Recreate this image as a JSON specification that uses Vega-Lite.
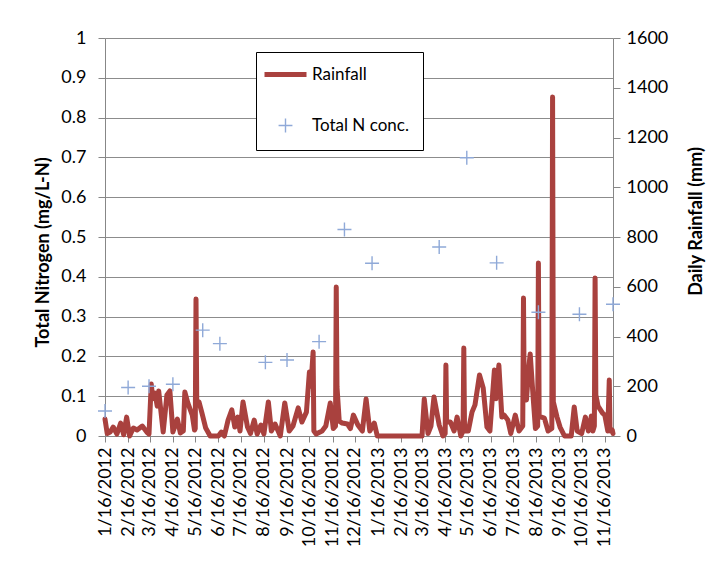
{
  "$schema": "https://vega.github.io/schema/vega-lite/v6.json",
  "width": 508,
  "height": 398,
  "autosize": {"type": "none"},
  "padding": {"left": 105, "top": 38, "right": 107, "bottom": 133},
  "background": "white",
  "config": {
    "view": {"stroke": null},
    "font": "Lato",
    "axis": {
      "labelFont": "Lato",
      "titleFont": "Lato",
      "labelColor": "black",
      "titleColor": "black",
      "labelFontSize": 18,
      "titleFontSize": 18,
      "titleFontWeight": "bold",
      "domainColor": "#878787",
      "tickColor": "#878787",
      "gridColor": "#8c8c8c",
      "gridOpacity": 1,
      "tickSize": 7
    },
    "axisX": {"labelOverlap": false}
  },
  "datasets": {
    "rain": [
      {"date": "2012-01-16", "rain": 68}, {"date": "2012-01-19", "rain": 10}, {"date": "2012-01-23", "rain": 16},
      {"date": "2012-01-27", "rain": 36}, {"date": "2012-02-01", "rain": 8}, {"date": "2012-02-06", "rain": 52},
      {"date": "2012-02-10", "rain": 5}, {"date": "2012-02-14", "rain": 76}, {"date": "2012-02-18", "rain": 0},
      {"date": "2012-02-23", "rain": 32}, {"date": "2012-02-28", "rain": 24}, {"date": "2012-03-06", "rain": 40},
      {"date": "2012-03-12", "rain": 16}, {"date": "2012-03-15", "rain": 8}, {"date": "2012-03-18", "rain": 209},
      {"date": "2012-03-20", "rain": 150}, {"date": "2012-03-23", "rain": 173}, {"date": "2012-03-26", "rain": 120},
      {"date": "2012-03-28", "rain": 181}, {"date": "2012-04-03", "rain": 16}, {"date": "2012-04-08", "rain": 165},
      {"date": "2012-04-12", "rain": 181}, {"date": "2012-04-16", "rain": 16}, {"date": "2012-04-22", "rain": 68},
      {"date": "2012-04-26", "rain": 12}, {"date": "2012-04-30", "rain": 20}, {"date": "2012-05-02", "rain": 177},
      {"date": "2012-05-06", "rain": 133}, {"date": "2012-05-12", "rain": 84}, {"date": "2012-05-15", "rain": 24},
      {"date": "2012-05-16", "rain": 30}, {"date": "2012-05-17", "rain": 551}, {"date": "2012-05-18", "rain": 140},
      {"date": "2012-05-21", "rain": 137}, {"date": "2012-05-25", "rain": 92}, {"date": "2012-05-30", "rain": 32},
      {"date": "2012-06-05", "rain": 0}, {"date": "2012-06-16", "rain": 0}, {"date": "2012-06-20", "rain": 16},
      {"date": "2012-06-24", "rain": 0}, {"date": "2012-06-29", "rain": 64}, {"date": "2012-07-04", "rain": 105},
      {"date": "2012-07-08", "rain": 36}, {"date": "2012-07-12", "rain": 76}, {"date": "2012-07-15", "rain": 20},
      {"date": "2012-07-19", "rain": 137}, {"date": "2012-07-25", "rain": 36}, {"date": "2012-07-29", "rain": 10},
      {"date": "2012-08-03", "rain": 64}, {"date": "2012-08-07", "rain": 8}, {"date": "2012-08-12", "rain": 44},
      {"date": "2012-08-16", "rain": 8}, {"date": "2012-08-22", "rain": 137}, {"date": "2012-08-26", "rain": 20},
      {"date": "2012-08-31", "rain": 48}, {"date": "2012-09-07", "rain": 0}, {"date": "2012-09-13", "rain": 133},
      {"date": "2012-09-19", "rain": 20}, {"date": "2012-09-24", "rain": 40}, {"date": "2012-10-01", "rain": 113},
      {"date": "2012-10-06", "rain": 56}, {"date": "2012-10-12", "rain": 96}, {"date": "2012-10-16", "rain": 257},
      {"date": "2012-10-18", "rain": 200}, {"date": "2012-10-21", "rain": 338}, {"date": "2012-10-22", "rain": 20},
      {"date": "2012-10-25", "rain": 8}, {"date": "2012-11-02", "rain": 20}, {"date": "2012-11-07", "rain": 40},
      {"date": "2012-11-13", "rain": 133}, {"date": "2012-11-17", "rain": 30}, {"date": "2012-11-20", "rain": 40},
      {"date": "2012-11-21", "rain": 599}, {"date": "2012-11-22", "rain": 197}, {"date": "2012-11-25", "rain": 60},
      {"date": "2012-11-29", "rain": 52}, {"date": "2012-12-06", "rain": 48}, {"date": "2012-12-10", "rain": 30},
      {"date": "2012-12-14", "rain": 84}, {"date": "2012-12-20", "rain": 44}, {"date": "2012-12-26", "rain": 20},
      {"date": "2012-12-31", "rain": 149}, {"date": "2013-01-05", "rain": 20}, {"date": "2013-01-11", "rain": 52},
      {"date": "2013-01-15", "rain": 0}, {"date": "2013-03-16", "rain": 0}, {"date": "2013-03-19", "rain": 149},
      {"date": "2013-03-24", "rain": 10}, {"date": "2013-03-28", "rain": 40}, {"date": "2013-04-01", "rain": 157},
      {"date": "2013-04-08", "rain": 44}, {"date": "2013-04-13", "rain": 0}, {"date": "2013-04-16", "rain": 10},
      {"date": "2013-04-17", "rain": 285}, {"date": "2013-04-18", "rain": 56}, {"date": "2013-04-23", "rain": 56},
      {"date": "2013-04-28", "rain": 20}, {"date": "2013-05-02", "rain": 76}, {"date": "2013-05-07", "rain": 0},
      {"date": "2013-05-10", "rain": 20}, {"date": "2013-05-11", "rain": 354}, {"date": "2013-05-12", "rain": 20},
      {"date": "2013-05-17", "rain": 20}, {"date": "2013-05-22", "rain": 96}, {"date": "2013-05-26", "rain": 125},
      {"date": "2013-06-01", "rain": 245}, {"date": "2013-06-06", "rain": 193}, {"date": "2013-06-11", "rain": 36},
      {"date": "2013-06-15", "rain": 20}, {"date": "2013-06-21", "rain": 265}, {"date": "2013-06-23", "rain": 150},
      {"date": "2013-06-27", "rain": 285}, {"date": "2013-07-01", "rain": 76}, {"date": "2013-07-04", "rain": 84},
      {"date": "2013-07-09", "rain": 64}, {"date": "2013-07-13", "rain": 10}, {"date": "2013-07-19", "rain": 84},
      {"date": "2013-07-24", "rain": 20}, {"date": "2013-07-29", "rain": 40}, {"date": "2013-07-30", "rain": 555},
      {"date": "2013-07-31", "rain": 145}, {"date": "2013-08-03", "rain": 145}, {"date": "2013-08-06", "rain": 273},
      {"date": "2013-08-08", "rain": 330}, {"date": "2013-08-12", "rain": 153}, {"date": "2013-08-15", "rain": 30},
      {"date": "2013-08-18", "rain": 40}, {"date": "2013-08-19", "rain": 695}, {"date": "2013-08-20", "rain": 76},
      {"date": "2013-08-23", "rain": 76}, {"date": "2013-08-27", "rain": 72}, {"date": "2013-09-01", "rain": 20},
      {"date": "2013-09-06", "rain": 30}, {"date": "2013-09-07", "rain": 1363}, {"date": "2013-09-08", "rain": 137},
      {"date": "2013-09-13", "rain": 76}, {"date": "2013-09-17", "rain": 36}, {"date": "2013-09-23", "rain": 0},
      {"date": "2013-10-02", "rain": 0}, {"date": "2013-10-06", "rain": 117}, {"date": "2013-10-10", "rain": 20},
      {"date": "2013-10-16", "rain": 10}, {"date": "2013-10-21", "rain": 76}, {"date": "2013-10-25", "rain": 20},
      {"date": "2013-10-29", "rain": 80}, {"date": "2013-10-31", "rain": 20}, {"date": "2013-11-02", "rain": 40},
      {"date": "2013-11-03", "rain": 635}, {"date": "2013-11-04", "rain": 165}, {"date": "2013-11-07", "rain": 120},
      {"date": "2013-11-13", "rain": 92}, {"date": "2013-11-16", "rain": 84}, {"date": "2013-11-20", "rain": 20},
      {"date": "2013-11-22", "rain": 225}, {"date": "2013-11-23", "rain": 20}, {"date": "2013-11-26", "rain": 24},
      {"date": "2013-11-27", "rain": 10}
    ],
    "tn": [
      {"date": "2012-01-16", "tn": 0.063}, {"date": "2012-02-16", "tn": 0.122}, {"date": "2012-03-15", "tn": 0.125},
      {"date": "2012-04-16", "tn": 0.130}, {"date": "2012-05-26", "tn": 0.266}, {"date": "2012-06-18", "tn": 0.232},
      {"date": "2012-08-18", "tn": 0.185}, {"date": "2012-09-16", "tn": 0.191}, {"date": "2012-10-29", "tn": 0.237},
      {"date": "2012-12-02", "tn": 0.519}, {"date": "2013-01-08", "tn": 0.434}, {"date": "2013-04-08", "tn": 0.475},
      {"date": "2013-05-15", "tn": 0.699}, {"date": "2013-06-24", "tn": 0.435}, {"date": "2013-08-19", "tn": 0.311},
      {"date": "2013-10-13", "tn": 0.306}, {"date": "2013-11-27", "tn": 0.331}
    ]
  },
  "encoding": {
    "x": {
      "field": "date",
      "type": "temporal",
      "scale": {
        "type": "utc",
        "domain": [
          {"year": 2012, "month": 1, "date": 16, "utc": true},
          {"year": 2013, "month": 11, "date": 27, "utc": true}
        ]
      },
      "axis": {
        "title": null,
        "grid": false,
        "format": "%-m/%-d/%Y",
        "labelAngle": -90,
        "labelPadding": 5,
        "tickSize": 6,
        "labelOverlap": false,
        "labelFlush": false,
        "values": [
          {"year": 2012, "month": 1, "date": 16, "utc": true},
          {"year": 2012, "month": 2, "date": 16, "utc": true},
          {"year": 2012, "month": 3, "date": 16, "utc": true},
          {"year": 2012, "month": 4, "date": 16, "utc": true},
          {"year": 2012, "month": 5, "date": 16, "utc": true},
          {"year": 2012, "month": 6, "date": 16, "utc": true},
          {"year": 2012, "month": 7, "date": 16, "utc": true},
          {"year": 2012, "month": 8, "date": 16, "utc": true},
          {"year": 2012, "month": 9, "date": 16, "utc": true},
          {"year": 2012, "month": 10, "date": 16, "utc": true},
          {"year": 2012, "month": 11, "date": 16, "utc": true},
          {"year": 2012, "month": 12, "date": 16, "utc": true},
          {"year": 2013, "month": 1, "date": 16, "utc": true},
          {"year": 2013, "month": 2, "date": 16, "utc": true},
          {"year": 2013, "month": 3, "date": 16, "utc": true},
          {"year": 2013, "month": 4, "date": 16, "utc": true},
          {"year": 2013, "month": 5, "date": 16, "utc": true},
          {"year": 2013, "month": 6, "date": 16, "utc": true},
          {"year": 2013, "month": 7, "date": 16, "utc": true},
          {"year": 2013, "month": 8, "date": 16, "utc": true},
          {"year": 2013, "month": 9, "date": 16, "utc": true},
          {"year": 2013, "month": 10, "date": 16, "utc": true},
          {"year": 2013, "month": 11, "date": 16, "utc": true}
        ]
      }
    }
  },
  "layer": [
    {
      "data": {"name": "rain"},
      "mark": {"type": "line", "strokeWidth": 5, "strokeCap": "round", "strokeJoin": "round"},
      "encoding": {
        "y": {
          "field": "rain",
          "type": "quantitative",
          "scale": {"domain": [0, 1600], "nice": false},
          "axis": {
            "orient": "right",
            "title": "Daily Rainfall (mm)",
            "titleAngle": 270,
            "titleBaseline": "top",
            "titlePadding": 20,
            "titleY": 183,
            "values": [0, 200, 400, 600, 800, 1000, 1200, 1400, 1600],
            "format": "d",
            "grid": false,
            "labelPadding": 6
          }
        },
        "color": {
          "datum": "Rainfall",
          "type": "nominal",
          "scale": {"domain": ["Rainfall", "Total N conc."], "range": ["#A9413E", "#8FA9D8"]},
          "legend": {
            "orient": "none",
            "legendX": 151,
            "legendY": 14,
            "title": null,
            "fillColor": "white",
            "strokeColor": "black",
            "padding": 14,
            "rowPadding": 30,
            "labelFont": "Lato",
            "labelFontSize": 17,
            "labelColor": "black",
            "labelOffset": 18,
            "symbolOffset": 7,
            "symbolSize": 1764,
            "symbolType": {"expr": "datum.value === 'Rainfall' ? 'stroke' : 'M-0.33,0H0.33M0,-0.33V0.33'"},
            "symbolStrokeWidth": {"expr": "datum.value === 'Rainfall' ? 5 : 1.4"}
          }
        }
      }
    },
    {
      "data": {"name": "tn"},
      "mark": {"type": "point", "shape": "M-1,0H1M0,-1V1", "size": 196, "filled": false, "strokeWidth": 1.4, "opacity": 1},
      "encoding": {
        "y": {
          "field": "tn",
          "type": "quantitative",
          "scale": {"domain": [0, 1], "nice": false},
          "axis": {
            "orient": "left",
            "title": "Total Nitrogen (mg/L-N)",
            "titleY": 214,
            "values": [0, 0.1, 0.2, 0.3, 0.4, 0.5, 0.6, 0.7, 0.8, 0.9, 1],
            "format": "~g",
            "grid": true,
            "labelPadding": 12,
            "titlePadding": 8
          }
        },
        "color": {"datum": "Total N conc.", "type": "nominal"}
      }
    }
  ],
  "resolve": {"scale": {"y": "independent"}}
}
